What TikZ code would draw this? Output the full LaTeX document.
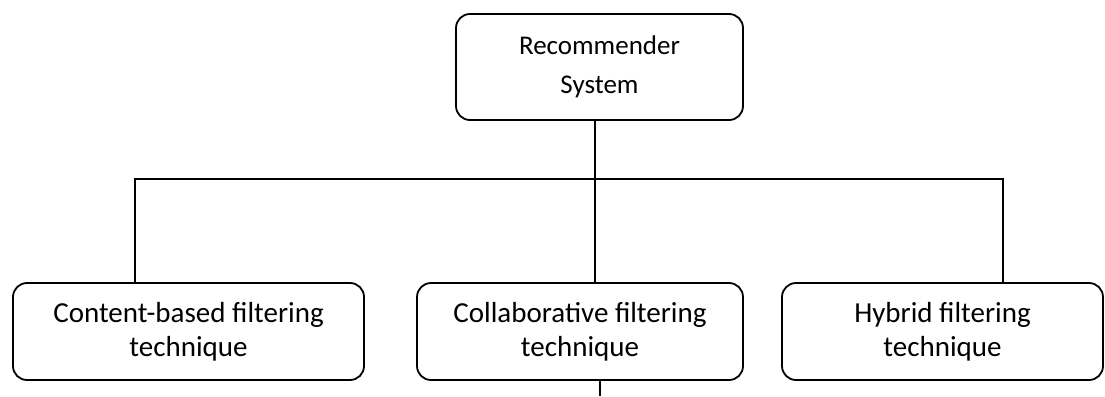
\documentclass[tikz,border=0pt]{standalone}
\usepackage{fontspec}
\setmainfont{Carlito}
\tikzset{box/.style={draw,rounded corners=14pt,line width=1.8pt,align=center,
    font=\fontsize{29}{34}\selectfont,inner sep=0pt}}

\begin{document}
\begin{tikzpicture}[x=1pt,y=1pt,line width=1.8pt]
        \useasboundingbox (0,0) rectangle (1105,-396) ;
        %\draw[very thin,gray,step=10] (0,0) grid (1105,-396) ;
        \node[box,minimum width=287pt,minimum height=106pt,
          font=\fontsize{27}{39}\selectfont] (rs) at (599.5,-67)
          {Recommender\\System} ;
        \node[box,minimum width=351pt,minimum height=97pt] (cb) at (188.5,-331.5)
          {Content-based filtering\\technique} ;
        \node[box,minimum width=326pt,minimum height=97pt] (cf) at (580,-331.5)
          {Collaborative filtering\\technique} ;
        \node[box,minimum width=321pt,minimum height=97pt] (hf) at (942.5,-331.5)
          {Hybrid filtering\\technique} ;
        \coordinate (trunk) at (595,-179) ;
        \coordinate (lt) at (135,-179) ;
        \coordinate (rt) at (1003,-179) ;
        \coordinate (tail) at (600,-396) ;
        \draw (trunk |- rs.south) -- (trunk |- cf.north) ;
        \draw (lt |- cb.north) -- (lt) -- (rt) -- (rt |- hf.north) ;
        \draw (tail |- cf.south) -- (tail) ;
      \end{tikzpicture}
\end{document}
